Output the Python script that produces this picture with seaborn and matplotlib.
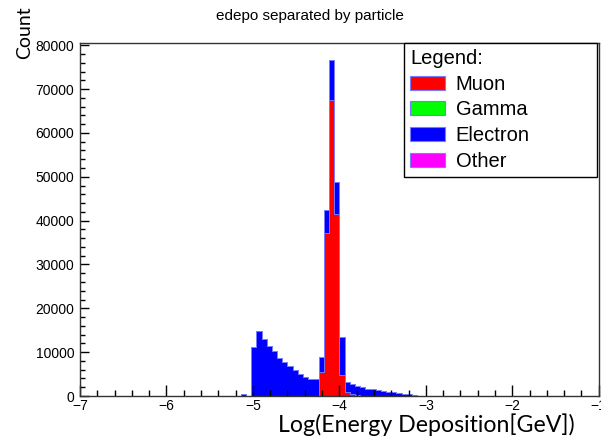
import numpy as np
import pandas as pd
import matplotlib
matplotlib.use("Agg")
import matplotlib.pyplot as plt
import seaborn as sns
from matplotlib.patches import Patch
from matplotlib.ticker import MultipleLocator

# ---- data (bin centres of log10(E/GeV), counts per 0.06-wide bin) ----
bin_centers = [-5.11, -5.05, -4.99, -4.93, -4.87, -4.81, -4.75, -4.69, -4.63,
               -4.57, -4.51, -4.45, -4.39, -4.33, -4.27, -4.21, -4.15, -4.09,
               -4.03, -3.97, -3.91, -3.85, -3.79, -3.73, -3.67, -3.61, -3.55,
               -3.49, -3.43, -3.37, -3.31, -3.25, -3.19, -3.13]
muon = [0, 0, 0, 0, 0, 0, 0, 0, 0, 0, 0, 0, 0, 0, 0,
        5500, 37100, 67600, 41600, 4800, 1000, 500, 250, 100,
        0, 0, 0, 0, 0, 0, 0, 0, 0, 0]
electron = [350, 0, 11100, 14900, 12900, 11500, 10200, 8700, 7800, 6800,
            5900, 5000, 4300, 3900, 3800, 3500, 5400, 9100, 7100, 8700,
            2300, 2300, 1950, 1900, 1700, 1500, 1300, 1100, 1000, 850,
            700, 550, 400, 250]
gamma = [0] * len(bin_centers)
other = [0] * len(bin_centers)

particles = ["Muon", "Gamma", "Electron", "Other"]
colors = {"Muon": "#ff0000", "Gamma": "#00ff00",
          "Electron": "#0000ff", "Other": "#ff00ff"}

series = {"Muon": muon, "Gamma": gamma, "Electron": electron, "Other": other}
df = pd.concat([pd.DataFrame({"edep": bin_centers, "count": v, "particle": k})
                for k, v in series.items()], ignore_index=True)

edges = list(np.linspace(-7, -1, 101))

fig = plt.figure(figsize=(6.01, 4.36), dpi=100)
ax = fig.add_axes([80 / 601, 1 - 396 / 436, 518.7 / 601, 353 / 436])

# stack: last hue level is at the bottom -> Muon bottom, Electron above
sns.histplot(data=df, x="edep", weights="count", hue="particle",
             hue_order=["Other", "Gamma", "Electron", "Muon"],
             palette=colors, bins=edges, multiple="stack",
             element="step", fill=True, alpha=1.0,
             linewidth=0.6, edgecolor="#7b7bff", legend=False, ax=ax)

ax.set_xlim(-7, -1)
ax.set_ylim(0, 80500)
ax.set_xlabel("")
ax.set_ylabel("")

ax.xaxis.set_major_locator(MultipleLocator(1))
ax.xaxis.set_minor_locator(MultipleLocator(0.2))
ax.yaxis.set_major_locator(MultipleLocator(10000))
ax.yaxis.set_minor_locator(MultipleLocator(2000))

tickfont = "Liberation Sans"
ax.tick_params(axis="x", which="major", direction="in", length=8, width=1, pad=2,
               labelsize=10)
ax.tick_params(axis="x", which="minor", direction="in", length=4.3, width=1)
ax.tick_params(axis="y", which="major", direction="in", length=6.5, width=1, pad=4,
               labelsize=10)
ax.tick_params(axis="y", which="minor", direction="in", length=3.3, width=1)
for lab in ax.get_xticklabels() + ax.get_yticklabels():
    lab.set_fontfamily(tickfont)
for s in ax.spines.values():
    s.set_linewidth(1.0)
    s.set_color("#333333")

# legend (ROOT style box)
handles = [Patch(facecolor=colors[p], edgecolor="#7a7aff", linewidth=0.8)
           for p in particles]
leg = ax.legend(handles, particles, title="Legend:", loc="upper left",
                bbox_to_anchor=(0.625, 1.0, 0.372, 0.0), mode="expand",
                borderaxespad=0, fancybox=False, framealpha=1,
                edgecolor="black", alignment="left",
                prop={"family": tickfont, "size": 14.5},
                title_fontproperties={"family": tickfont, "size": 14.5},
                handlelength=1.75, handleheight=0.7, handletextpad=0.5,
                labelspacing=0.33, borderpad=0.3)
leg.get_frame().set_linewidth(1.0)

fig.text(310 / 601, 1 - 16 / 436, "edepo separated by particle",
         ha="center", va="center", fontsize=11, family=tickfont)
fig.text(575 / 601, 1 - 424.5 / 436, "Log(Energy Deposition[GeV])",
         ha="right", va="center", fontsize=16.7, family="Lato")
fig.text(25 / 601, 1 - 33 / 436, "Count", rotation=90,
         ha="center", va="center", fontsize=14, family="Lato")

fig.savefig("out.png", dpi=100)
